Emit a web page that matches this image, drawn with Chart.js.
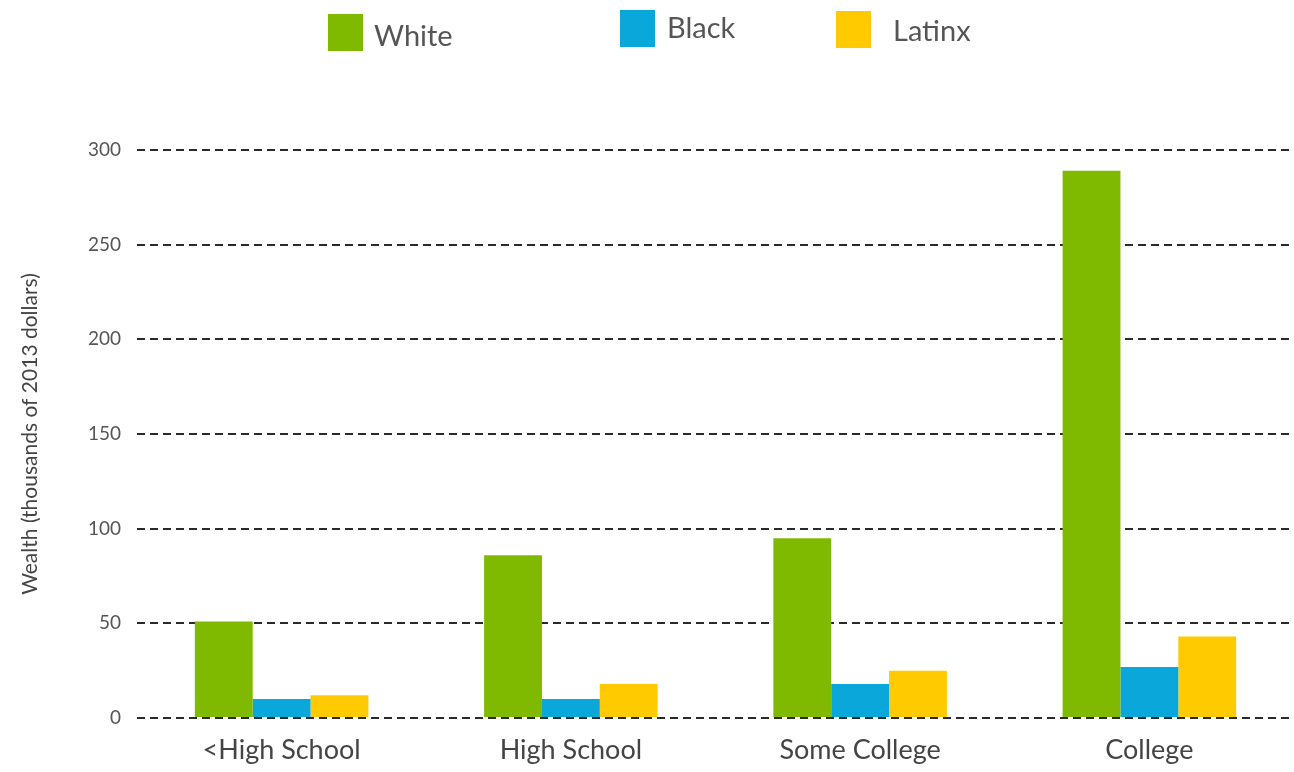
<!DOCTYPE html>
<html>
<head>
<meta charset="utf-8">
<script src="https://cdn.jsdelivr.net/npm/chart.js@4"></script>
<style>
  html, body { margin: 0; padding: 0; background: #fff; }
  #wrap { position: relative; width: 1294px; height: 772px; }
  #legenda { position: absolute; top: 0; left: 0; width: 1294px; height: 60px; font-family: Lato, sans-serif; color: #555; }
  .item { position: absolute; display: flex; align-items: center; font-size: 29px; }
  .item span.box { display: inline-block; width: 35px; height: 37px; }
</style>
</head>
<body>
<div id="wrap">
  <div id="legenda"></div>
  <canvas id="grafico" width="1294" height="772"></canvas>
</div>
<script>
const categorias = ["<High School", "High School", "Some College", "College"];
const branco = [51, 86, 95, 289];
const negro = [10, 10, 18, 27];
const latino = [12, 18, 25, 43];
const ticksY = [0, 50, 100, 150, 200, 250, 300];

const series = [
  { nome: "White", cor: "#7fba00", dados: branco },
  { nome: "Black", cor: "#0aa8da", dados: negro },
  { nome: "Latinx", cor: "#ffca00", dados: latino }
];

// legenda em html, posicoes como na figura
const posLegenda = [
  { x: 328, y: 14, gap: 11, ty: 2 },
  { x: 620, y: 10, gap: 12, ty: -2 },
  { x: 836, y: 11, gap: 22, ty: 0 }
];
const legenda = document.getElementById("legenda");
series.forEach((s, i) => {
  const p = posLegenda[i];
  const el = document.createElement("div");
  el.className = "item";
  el.style.left = p.x + "px";
  el.style.top = p.y + "px";
  el.innerHTML = `<span class="box" style="background:${s.cor};margin-right:${p.gap}px"></span>` +
    `<span style="position:relative;top:${p.ty}px">${s.nome}</span>`;
  legenda.appendChild(el);
});

new Chart(document.getElementById("grafico"), {
  type: "bar",
  data: {
    labels: categorias,
    datasets: series.map(s => ({
      label: s.nome,
      data: s.dados,
      backgroundColor: s.cor,
      borderWidth: 0,
      categoryPercentage: 0.6,
      barPercentage: 1.0
    }))
  },
  options: {
    responsive: false,
    animation: false,
    layout: { padding: { top: 150, left: 10, right: 0, bottom: 0 } },
    plugins: { legend: { display: false }, tooltip: { enabled: false } },
    scales: {
      x: {
        afterFit: s => { s.height = 54; },
        grid: { display: false, drawTicks: false },
        border: { display: false },
        ticks: { color: "#444", font: { family: "Lato", size: 27 }, padding: 16 }
      },
      y: {
        min: 0,
        max: 300,
        afterBuildTicks: s => { s.ticks = ticksY.map(v => ({ value: v })); },
        afterFit: s => { s.width = 127; },
        grid: { color: "#2a2a2a", lineWidth: 2, drawTicks: false },
        border: { display: false, dash: [8, 5] },
        ticks: { color: "#555", font: { family: "Lato", size: 19 }, padding: 16 },
        title: {
          display: true,
          text: "Wealth (thousands of 2013 dollars)",
          color: "#444",
          font: { family: "Lato", size: 21 },
          padding: { top: 8, bottom: 0 }
        }
      }
    }
  }
});
</script>
</body>
</html>
